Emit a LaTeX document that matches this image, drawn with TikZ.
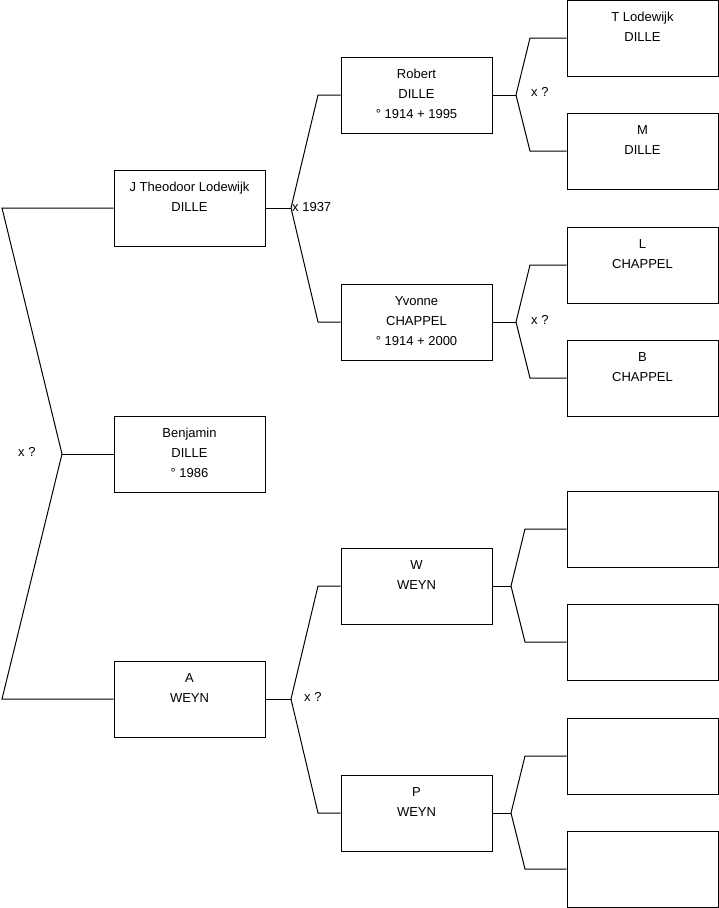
\documentclass[tikz,border=0pt]{standalone}
\usepackage{fontspec}
\setmainfont{Liberation Sans}
\usepackage{tikz}
\usetikzlibrary{positioning,calc}

\tikzset{
  person/.style={draw, line width=1pt, minimum width=151, minimum height=76, inner sep=0},
  who/.style={anchor=north, align=center, inner sep=0, yshift=-12.5pt, font=\fontsize{13}{20}\selectfont},
  link/.style={line width=1pt},
  union/.style={anchor=west, inner sep=0, font=\fontsize{13}{14}\selectfont}
}

\begin{document}
\begin{tikzpicture}[x=1pt,y=-1pt]
  \useasboundingbox (0,0) rectangle (719,908);
  % generation 1
  \node[person, label={[who]north:{J Theodoor Lodewijk\\DILLE}}] (jtl) at (189.5,208) {};
  \node[person, label={[who]north:{Benjamin\\DILLE\\° 1986}}] (benj) at (189.5,454) {};
  \node[person, label={[who]north:{A\\WEYN}}] (aweyn) at (189.5,699) {};
  % generation 2
  \node[person, label={[who]north:{Robert\\DILLE\\° 1914 + 1995}}] (robert) at (416.5,95) {};
  \node[person, label={[who]north:{Yvonne\\CHAPPEL\\° 1914 + 2000}}] (yvonne) at (416.5,322) {};
  \node[person, label={[who]north:{W\\WEYN}}] (wweyn) at (416.5,586) {};
  \node[person, label={[who]north:{P\\WEYN}}] (pweyn) at (416.5,813) {};
  % generation 3
  \node[person, label={[who]north:{T Lodewijk\\DILLE}}] (tlod) at (642.5,38) {};
  \node[person, label={[who]north:{M\\DILLE}}] (mdil) at (642.5,151) {};
  \node[person, label={[who]north:{L\\CHAPPEL}}] (lcha) at (642.5,265) {};
  \node[person, label={[who]north:{B\\CHAPPEL}}] (bcha) at (642.5,378) {};
  \node[person] (e1) at (642.5,529) {};
  \node[person] (e2) at (642.5,642) {};
  \node[person] (e3) at (642.5,756) {};
  \node[person] (e4) at (642.5,869) {};

  % forks
  \coordinate (root) at (62,454);
  \coordinate (roott) at (2,208);
  \coordinate (rootb) at (2,699);
  \draw[link] (jtl.west) -- (roott) -- (root) -- (rootb) -- (aweyn.west);
  \draw[link] (root) -- (benj.west);
  \node[union] (uroot) at (18,452) {x ?};

  \coordinate (fjtl) at (291,208);
  \draw[link] (jtl.east) -- (fjtl);
  \draw[link] (fjtl) -- (318,95) -- (robert.west);
  \draw[link] (fjtl) -- (318,322) -- (yvonne.west);
  \node[union] (ujtl) at (292,207) {x 1937};

  \coordinate (fawe) at (291,699);
  \draw[link] (aweyn.east) -- (fawe);
  \draw[link] (fawe) -- (318,586) -- (wweyn.west);
  \draw[link] (fawe) -- (318,813) -- (pweyn.west);
  \node[union] (uawe) at (304,697) {x ?};

  \coordinate (frob) at (516,95);
  \draw[link] (robert.east) -- (frob);
  \draw[link] (frob) -- (530,38) -- (tlod.west);
  \draw[link] (frob) -- (530,151) -- (mdil.west);
  \node[union] (urob) at (531,92) {x ?};

  \coordinate (fyvo) at (516,322);
  \draw[link] (yvonne.east) -- (fyvo);
  \draw[link] (fyvo) -- (530,265) -- (lcha.west);
  \draw[link] (fyvo) -- (530,378) -- (bcha.west);
  \node[union] (uyvo) at (531,320) {x ?};

  \coordinate (fwwe) at (511,586);
  \draw[link] (wweyn.east) -- (fwwe);
  \draw[link] (fwwe) -- (525,529) -- (e1.west);
  \draw[link] (fwwe) -- (525,642) -- (e2.west);

  \coordinate (fpwe) at (511,813);
  \draw[link] (pweyn.east) -- (fpwe);
  \draw[link] (fpwe) -- (525,756) -- (e3.west);
  \draw[link] (fpwe) -- (525,869) -- (e4.west);
\end{tikzpicture}
\end{document}
